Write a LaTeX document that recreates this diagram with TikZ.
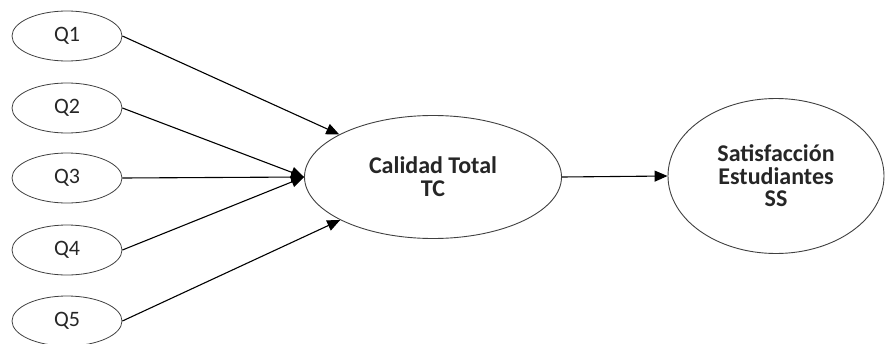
\documentclass[tikz,border=0pt]{standalone}
\usepackage{fontspec}
\setmainfont{Carlito}
\usetikzlibrary{shapes.geometric,arrows.meta}
\begin{document}
\begin{tikzpicture}[x=1pt,y=-1pt,
  qnode/.style={ellipse,draw=black!75,line width=0.8pt,minimum width=110pt,minimum height=50pt,inner sep=0pt,font=\fontsize{22}{24}\selectfont,text=black!85},
  bignode/.style={ellipse,draw=black!75,line width=0.9pt,inner sep=0pt,align=center,text=black!85},
  conn/.style={line width=1.1pt,-{Triangle[length=13pt,width=11pt]}}]
\useasboundingbox (0,0) rectangle (886,343);
\node[qnode] (q1) at (67,36) {Q1};
\node[qnode] (q2) at (67,108) {Q2};
\node[qnode] (q3) at (67,178) {Q3};
\node[qnode] (q4) at (67,250) {Q4};
\node[qnode] (q5) at (67,321) {Q5};
\node[bignode,font=\bfseries\fontsize{24}{23}\selectfont,minimum width=257pt,minimum height=123pt] (tc) at (433,177) {Calidad Total\\TC};
\node[bignode,font=\bfseries\fontsize{24}{22.5}\selectfont,minimum width=216pt,minimum height=155pt] (ss) at (776,176) {Satisfacción\\Estudiantes\\SS};
\draw[conn] (q1.east) -- (tc);
\draw[conn] (q2.east) -- (tc.west);
\draw[conn] (q3.east) -- (tc.west);
\draw[conn] (q4.east) -- (tc.west);
\draw[conn] (q5.east) -- (tc);
\draw[conn] (tc.east) -- (ss.west);
\end{tikzpicture}
\end{document}
